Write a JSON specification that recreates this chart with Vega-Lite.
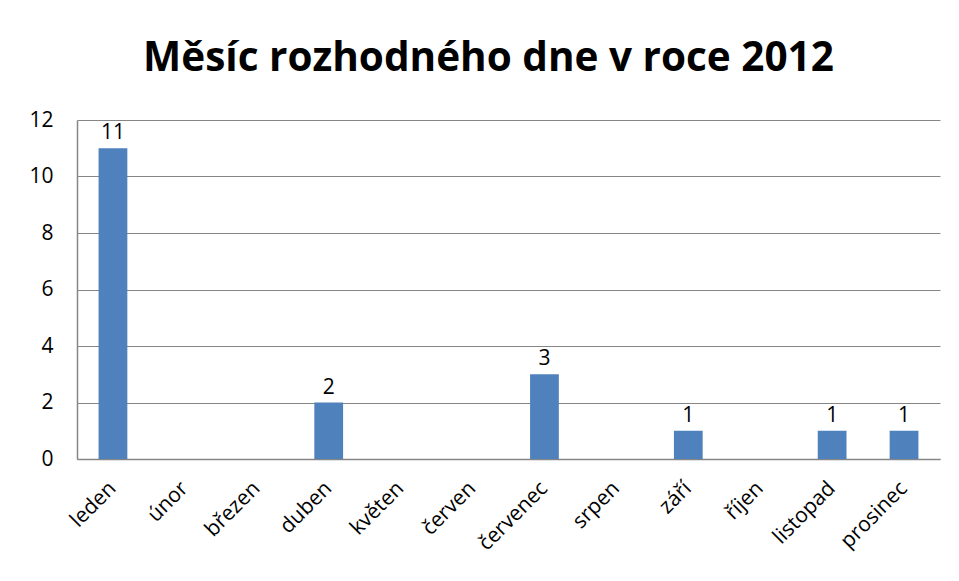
{
  "$schema": "https://vega.github.io/schema/vega-lite/v6.json",
  "autosize": "none",
  "width": 863,
  "height": 339,
  "padding": {"left": 77, "top": 120, "right": 19, "bottom": 122},
  "background": "white",
  "title": {
    "text": "Měsíc rozhodného dne v roce 2012",
    "font": "Open Sans",
    "fontSize": 40.5,
    "fontWeight": "bold",
    "color": "#000000",
    "anchor": "middle",
    "baseline": "alphabetic",
    "offset": -2,
    "dx": -20
  },
  "data": {
    "values": [
      {"mesic": "leden", "pocet": 11},
      {"mesic": "únor", "pocet": 0},
      {"mesic": "březen", "pocet": 0},
      {"mesic": "duben", "pocet": 2},
      {"mesic": "květen", "pocet": 0},
      {"mesic": "červen", "pocet": 0},
      {"mesic": "červenec", "pocet": 3},
      {"mesic": "srpen", "pocet": 0},
      {"mesic": "září", "pocet": 1},
      {"mesic": "říjen", "pocet": 0},
      {"mesic": "listopad", "pocet": 1},
      {"mesic": "prosinec", "pocet": 1}
    ]
  },
  "encoding": {
    "x": {
      "field": "mesic",
      "type": "nominal",
      "sort": null,
      "scale": {"paddingInner": 0.6, "paddingOuter": 0.3},
      "axis": {
        "title": null,
        "labelAngle": -45,
        "labelAlign": "right",
        "labelBaseline": "middle",
        "labelPadding": 26,
        "labelFont": "Open Sans",
        "labelFontSize": 21,
        "labelColor": "#000000",
        "ticks": false,
        "domainColor": "#868686",
        "domainWidth": 1.5,
        "grid": false
      }
    },
    "y": {
      "field": "pocet",
      "type": "quantitative",
      "scale": {"domain": [0, 12]},
      "axis": {
        "title": null,
        "values": [0, 2, 4, 6, 8, 10, 12],
        "labelFont": "Open Sans",
        "labelFontSize": 21,
        "labelColor": "#000000",
        "labelPadding": 24,
        "ticks": false,
        "domainColor": "#868686",
        "domainWidth": 1.5,
        "grid": true,
        "gridColor": "#868686",
        "gridWidth": 1
      }
    }
  },
  "layer": [
    {
      "mark": {"type": "bar", "color": "#4F81BD"}
    },
    {
      "transform": [{"filter": "datum.pocet > 0"}],
      "mark": {
        "type": "text",
        "font": "Open Sans",
        "fontSize": 21,
        "color": "#000000",
        "baseline": "bottom",
        "dy": -5
      },
      "encoding": {"text": {"field": "pocet", "type": "quantitative"}}
    }
  ],
  "config": {
    "view": {"stroke": null}
  }
}
